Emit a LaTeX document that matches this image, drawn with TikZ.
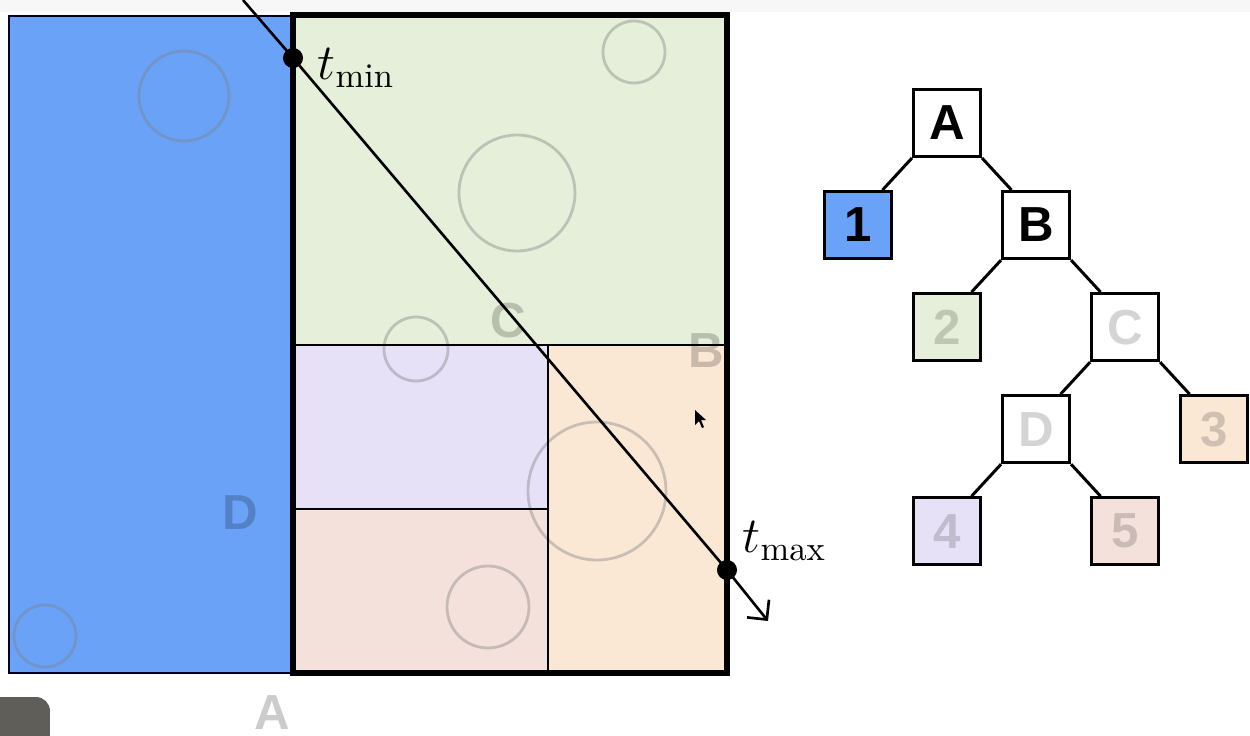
\documentclass[tikz,border=0pt]{standalone}
\usepackage{amsmath}
\usepackage{fontspec}
\setsansfont{Liberation Sans}
\usepackage{tikz}
\usetikzlibrary{positioning, arrows.meta, calc}

\definecolor{cellblue}{HTML}{6AA2F8}
\definecolor{cellgreen}{HTML}{E5EFD9}
\definecolor{cellpurple}{HTML}{E7E1F7}
\definecolor{cellpink}{HTML}{F5E1DC}
\definecolor{cellorange}{HTML}{FAE8D5}
\definecolor{camgrey}{HTML}{5F5E58}

\tikzset{
    treebox/.style={draw, line width=0.85pt, minimum size=0.67cm, inner sep=0pt,
        font=\fontsize{14}{16}\selectfont\sffamily\bfseries},
    faded/.style={text=black, text opacity=0.17},
    branch/.style={line width=0.85pt},
    ring/.style={draw=gray, draw opacity=0.4, line width=0.8pt},
    split/.style={line width=0.6pt},
    hit/.style={circle, fill, inner sep=0pt, minimum size=0.2cm},
    tlabel/.style={inner sep=0pt, anchor=west, font=\fontsize{14}{17}\selectfont},
    celltag/.style={inner sep=0pt, text=black, text opacity=0.2, font=\fontsize{14}{16}\selectfont\sffamily\bfseries}
}

\begin{document}
\begin{tikzpicture}[x=0.01cm, y=-0.01cm, node distance=1.02cm and 0.89cm, on grid]
    \useasboundingbox (0,0) rectangle (1250,736);
    \fill[gray!6] (0,0) rectangle (1250,12);
    \fill[camgrey] (0,736) -- (0,697) [rounded corners=4pt] -- (50,697) [sharp corners] -- (50,736) -- cycle;

    % cells of the split
    \draw[fill=cellblue, draw=black!85!blue, line width=0.6pt] (9,16) rectangle (293,673);
    \fill[cellgreen] (293,15) rectangle (727,345);
    \fill[cellpurple] (293,345) rectangle (548,509);
    \fill[cellpink] (293,509) rectangle (548,673);
    \fill[cellorange] (548,345) rectangle (727,673);

    % objects
    \draw[ring] (184,96) circle (45);
    \draw[ring] (45,636) circle (31);
    \draw[ring] (634,52) circle (31);
    \draw[ring] (517,193) circle (58);
    \draw[ring] (416,349) circle (32);
    \draw[ring] (597,491) circle (69);
    \draw[ring] (488,607) circle (41);

    \draw[split] (293,345) -- (727,345);
    \draw[split] (548,345) -- (548,673);
    \draw[split] (293,509) -- (548,509);
    \draw[line width=1.45pt] (293,15) rectangle (727,673);

    \node[celltag] (tagc) at (508,321) {C};
    \node[celltag] (tagb) at (706,351) {B};
    \node[celltag] (tagd) at (240,513) {D};
    \node[celltag] (taga) at (272,713) {A};

    % pointer
    \fill (695,410) -- (695,425) -- (699,421) -- (702,428) -- (704,427) -- (701,420) -- (706,420) -- cycle;

    % ray
    \coordinate (rayin) at (243,0);
    \coordinate (tmin) at (293,58);
    \coordinate (tmax) at (727,570);
    \coordinate (rayout) at (768,621);
    \draw[line width=0.75pt, -{Straight Barb[length=4pt,width=8pt]}] (rayin) -- (tmin) -- (tmax) -- (rayout);
    \node[hit] (dotmin) at (tmin) {};
    \node[hit] (dotmax) at (tmax) {};
    \node[tlabel] (lmin) at ($(tmin)+(24,10)$) {$t_{\min}$};
    \node[tlabel] (lmax) at ($(tmax)+(15,-29)$) {$t_{\max}$};

    % tree
    \node[treebox] (a) at (947,123) {A};
    \node[treebox, fill=cellblue] (l1) [below left=of a] {1};
    \node[treebox] (b) [below right=of a] {B};
    \node[treebox, fill=cellgreen, faded] (l2) [below left=of b] {2};
    \node[treebox, faded] (c) [below right=of b] {C};
    \node[treebox, faded] (d) [below left=of c] {D};
    \node[treebox, fill=cellorange, faded] (l3) [below right=of c] {3};
    \node[treebox, fill=cellpurple, faded] (l4) [below left=of d] {4};
    \node[treebox, fill=cellpink, faded] (l5) [below right=of d] {5};

    \path[branch]
    (a.south west) edge (l1.55)
        (a.south east) edge (b.125)
    (b.south west) edge (l2.55)
        (b.south east) edge (c.125)
    (c.south west) edge (d.55)
        (c.south east) edge (l3.125)
    (d.south west) edge (l4.55)
        (d.south east) edge (l5.125);
\end{tikzpicture}
\end{document}
